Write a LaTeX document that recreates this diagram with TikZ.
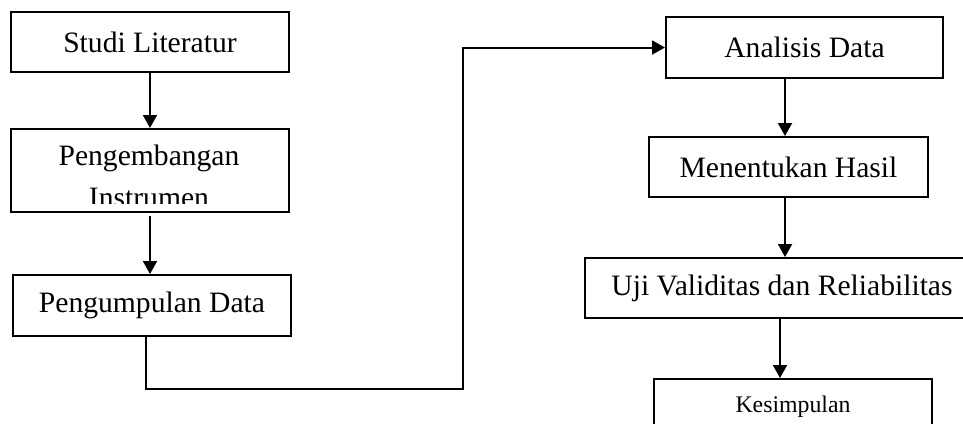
\documentclass[tikz,border=0pt]{standalone}
\usepackage{fontspec}
\setmainfont{Liberation Serif}
\usetikzlibrary{arrows.meta}
\begin{document}
\begin{tikzpicture}[x=1pt,y=-1pt,
  box/.style={draw, line width=2pt, inner sep=0pt, fill=white,
              font=\fontsize{29.6}{34}\selectfont},
  txt/.style={inner sep=0pt, font=\fontsize{29.6}{34}\selectfont},
  arr/.style={line width=2pt, -{Triangle[width=14pt,length=13pt]}}]
\clip (0,0) rectangle (963,423);
\fill[white] (0,0) rectangle (963,423);
% left column
\node[box, minimum width=278, minimum height=60] (b1) at (150,42) {Studi Literatur};
\node[box, minimum width=278, minimum height=83] (b2) at (150,170.5) {};
\begin{scope}
  \clip (b2.north west) rectangle ([yshift=10pt]b2.south east);
  \node[txt, anchor=base] (t2a) at (149,165) {Pengembangan};
  \node[txt, anchor=base] (t2b) at (149,207) {Instrumen};
\end{scope}
\node[box, minimum width=278, minimum height=61] (b3) at (152,305.5) {Pengumpulan Data};
% right column
\node[box, minimum width=277, minimum height=61] (b4) at (804.5,47.5) {Analisis Data};
\node[box, minimum width=279, minimum height=60] (b5) at (788.5,167) {Menentukan Hasil};
\node[box, minimum width=394, minimum height=60] (b6) at (782,288) {Uji Validitas dan Reliabilitas};
\node[box, minimum width=278, minimum height=55.2, font=\fontsize{23.8}{28}\selectfont] (b7) at (793,406.6) {Kesimpulan};
% connectors
\coordinate (c1) at (463,389);
\draw[arr] (b1.south) -- (b1.south |- b2.north);
\draw[arr] ([yshift=-3pt]b2.south) -- (b2.south |- b3.north);
\draw[arr] ([xshift=-6pt]b3.south) |- (c1) |- (b4.west);
\draw[arr] ([xshift=-19.5pt]b4.south) -- ([xshift=-19.5pt]b4.south |- b5.north);
\draw[arr] ([xshift=-3.5pt]b5.south) -- ([xshift=-3.5pt]b5.south |- b6.north);
\draw[arr] ([xshift=-2pt]b6.south) -- ([xshift=-2pt]b6.south |- b7.north);
\end{tikzpicture}
\end{document}
